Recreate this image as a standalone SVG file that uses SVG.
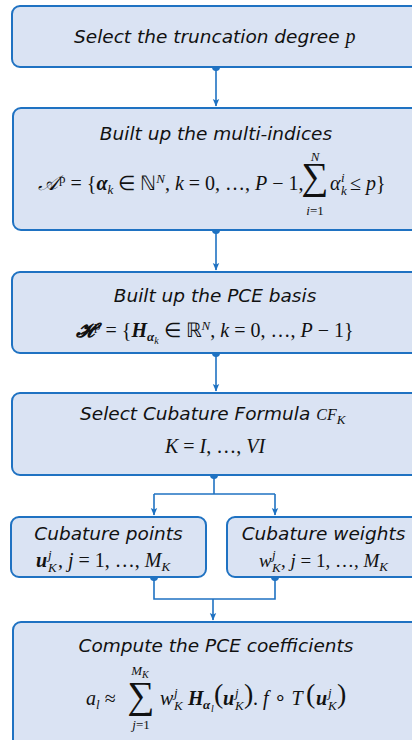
<svg xmlns="http://www.w3.org/2000/svg" width="412" height="740" viewBox="0 0 412 740">
<defs>
<style>
.box{fill:#dae3f3;stroke:#1f72c2;stroke-width:2}
.t{font-family:"DejaVu Sans",Verdana,sans-serif;font-style:italic;font-size:18.5px;fill:#111}
.m{font-family:"Liberation Serif","Times New Roman",serif;font-size:19px;fill:#111}
.l{font-size:20px}
.i{font-style:italic}
.b{font-weight:bold}
.s{font-size:13px}
.ss{font-size:10px}
.big{font-size:38px}
.par{font-size:28px}
.con{fill:none;stroke:#1f72c2;stroke-width:1.6}
.dot{fill:#1f72c2}
</style>
<marker id="arr" markerWidth="8" markerHeight="8" refX="7" refY="4" orient="auto" markerUnits="userSpaceOnUse">
<path d="M0,0.8 L7.5,4 L0,7.2 L1.5,4 Z" fill="#1f72c2"/>
</marker>
</defs>

<g id="connectors">
<path class="con" d="M216,67 V106" marker-end="url(#arr)"/>
<path class="con" d="M216,230 V270" marker-end="url(#arr)"/>
<path class="con" d="M216,353 V391" marker-end="url(#arr)"/>
<path class="con" d="M214,475 V494"/>
<path class="con" d="M154,494 H275"/>
<path class="con" d="M154,494 V515" marker-end="url(#arr)"/>
<path class="con" d="M275,494 V515" marker-end="url(#arr)"/>
<path class="con" d="M154,577 V599 H275 V577"/>
<path class="con" d="M213,599 V620" marker-end="url(#arr)"/>
<circle class="dot" cx="216" cy="67" r="4"/>
<circle class="dot" cx="216" cy="230" r="4"/>
<circle class="dot" cx="216" cy="353" r="4"/>
<circle class="dot" cx="214" cy="475" r="4"/>
<circle class="dot" cx="154" cy="577" r="4"/>
<circle class="dot" cx="275" cy="577" r="4"/>
</g>

<g id="n1">
<rect class="box" x="12" y="6" width="410" height="61" rx="8"/>
<text class="t" x="74" y="43">Select the truncation degree <tspan class="m l i">p</tspan></text>
</g>

<g id="n2">
<rect class="box" x="13" y="108" width="410" height="122" rx="8"/>
<text class="t" x="216" y="140" text-anchor="middle">Built up the multi-indices</text>
<text class="m l" x="38" y="190"><tspan class="i" style="font-size:21px">𝒜</tspan><tspan class="s" dx="1" dy="-7">p</tspan><tspan dy="7"> = {</tspan><tspan class="b i">α</tspan><tspan class="s i" dy="4">k</tspan><tspan dy="-4"> ∈ ℕ</tspan><tspan class="s i" dy="-7">N</tspan><tspan dy="7">, </tspan><tspan class="i">k</tspan> = 0, …, <tspan class="i">P</tspan> − 1,</text>
<text class="m big" x="315" y="189" text-anchor="middle">∑</text>
<text class="m s i" x="315" y="161" text-anchor="middle">N</text>
<text class="m s" x="315" y="215" text-anchor="middle"><tspan class="i">i</tspan>=1</text>
<text class="m l i" x="330" y="190">α</text>
<text class="m s i" x="341" y="182">i</text>
<text class="m s i" x="341" y="195">k</text>
<text class="m l" x="350" y="190"> ≤ <tspan class="i">p</tspan>}</text>
</g>

<g id="n3">
<rect class="box" x="12" y="272" width="410" height="81" rx="8"/>
<text class="t" x="215" y="302" text-anchor="middle">Built up the PCE basis</text>
<text class="m l" x="76" y="337"><tspan class="b i">𝓗</tspan><tspan class="s" dy="-7">p</tspan><tspan dy="7"> = {</tspan><tspan class="b i">H</tspan><tspan class="s b i" dy="4">α</tspan><tspan class="ss i" dy="3">k</tspan><tspan dy="-7"> ∈ ℝ</tspan><tspan class="s i" dy="-7">N</tspan><tspan dy="7">, </tspan><tspan class="i">k</tspan> = 0, …, <tspan class="i">P</tspan> − 1}</text>
</g>

<g id="n4">
<rect class="box" x="12" y="393" width="410" height="82" rx="8"/>
<text class="t" x="80" y="420">Select Cubature Formula <tspan class="m i" style="font-size:16px">CF</tspan><tspan class="m s i" dy="4">K</tspan></text>
<text class="m l" x="215" y="453" text-anchor="middle"><tspan class="i">K</tspan> = <tspan class="i">I</tspan>, …, <tspan class="i">VI</tspan></text>
</g>

<g id="n5">
<rect class="box" x="11" y="517" width="195" height="60" rx="8"/>
<text class="t" x="108.5" y="540" text-anchor="middle">Cubature points</text>
<text class="m l b i" x="36" y="567">u</text>
<text class="m s i" x="48" y="559">j</text>
<text class="m s i" x="48" y="572">K</text>
<text class="m l" x="58" y="567">, <tspan class="i">j</tspan> = 1, …, <tspan class="i">M</tspan><tspan class="s i" dy="4">K</tspan></text>
</g>

<g id="n6">
<rect class="box" x="227" y="517" width="200" height="60" rx="8"/>
<text class="t" x="323.5" y="540" text-anchor="middle">Cubature weights</text>
<text class="m i" x="259" y="567">w</text>
<text class="m s i" x="272" y="559">j</text>
<text class="m s i" x="272" y="572">K</text>
<text class="m" x="281" y="567">, <tspan class="i">j</tspan> = 1, …, <tspan class="i">M</tspan><tspan class="s i" dy="4">K</tspan></text>
</g>

<g id="n7">
<rect class="box" x="13" y="622" width="410" height="130" rx="8"/>
<text class="t" x="216" y="652" text-anchor="middle">Compute the PCE coefficients</text>
<text class="m l" x="86" y="705"><tspan class="i">a</tspan><tspan class="s i" dy="4">l</tspan><tspan dy="-4"> ≈</tspan></text>
<text class="m big" x="141" y="708" text-anchor="middle">∑</text>
<text class="m s i" x="140" y="675" text-anchor="middle">M<tspan class="ss" dy="3">K</tspan></text>
<text class="m s" x="141" y="729" text-anchor="middle"><tspan class="i">j</tspan>=1</text>
<text class="m l i" x="160" y="705">w</text>
<text class="m s i" x="174" y="697">j</text>
<text class="m s i" x="174" y="710">K</text>
<text class="m l b i" x="188" y="705">H</text>
<text class="m s b i" x="203" y="709">α</text>
<text class="m ss i" x="211" y="712">l</text>
<text class="m par" x="214" y="703">(</text>
<text class="m l b i" x="223" y="705">u</text>
<text class="m s i" x="235" y="697">j</text>
<text class="m s i" x="235" y="710">K</text>
<text class="m par" x="244" y="703">)</text>
<text class="m l" x="253" y="705">. <tspan class="i">f</tspan> ∘ <tspan class="i">T</tspan></text>
<text class="m par" x="306" y="703">(</text>
<text class="m l b i" x="316" y="705">u</text>
<text class="m s i" x="328" y="697">j</text>
<text class="m s i" x="328" y="710">K</text>
<text class="m par" x="337" y="703">)</text>
</g>
</svg>
